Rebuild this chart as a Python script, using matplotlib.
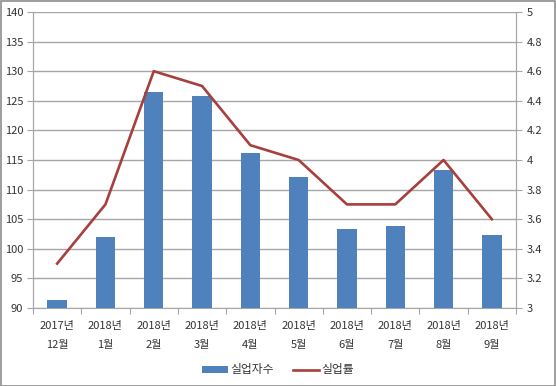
import matplotlib.pyplot as plt
import numpy as np

plt.rcParams['font.family'] = ['Noto Sans CJK KR', 'DejaVu Sans']

years = ['2017년', '2018년', '2018년', '2018년', '2018년', '2018년', '2018년', '2018년', '2018년', '2018년']
months = ['12월', '1월', '2월', '3월', '4월', '5월', '6월', '7월', '8월', '9월']
unemployed = [91.3, 102.0, 126.5, 125.8, 116.1, 112.2, 103.4, 103.9, 113.3, 102.4]
rate = [3.3, 3.7, 4.6, 4.5, 4.1, 4.0, 3.7, 3.7, 4.0, 3.6]

bar_color = '#4F81BD'
line_color = '#A5403D'
grid_color = '#a6a6a6'
text_color = '#333333'

fig = plt.figure(figsize=(5.56, 3.86), dpi=100)
fig.patches.append(plt.Rectangle((0.001, 0.001), 0.998, 0.997, transform=fig.transFigure,
                                 fill=False, edgecolor='#8c8c8c', linewidth=1.2))
ax = fig.add_axes([33 / 556, 1 - 308 / 386, 483 / 556, 296 / 386])
ax2 = ax.twinx()

x = np.arange(len(months))
ax.bar(x, unemployed, width=0.4, color=bar_color, zorder=3, label='실업자수')
ax2.plot(x, rate, color=line_color, linewidth=1.9, label='실업률')

ax.set_xlim(-0.5, len(months) - 0.5)
ax.set_ylim(90, 140)
ax.set_yticks(np.arange(90, 141, 5))
ax2.set_ylim(3, 5)
ax2.set_yticks(np.arange(3, 5.01, 0.2))
ax2.set_yticklabels(['3', '3.2', '3.4', '3.6', '3.8', '4', '4.2', '4.4', '4.6', '4.8', '5'])

ax.yaxis.grid(True, color=grid_color, linewidth=1.0, zorder=0)
ax.set_axisbelow(True)

ax.set_xticks(np.arange(-0.5, len(months), 1.0))
ax.set_xticklabels([])
ax.set_xticks(x, minor=True)
ax.set_xticklabels([f'{y}\n{m}' for y, m in zip(years, months)], minor=True,
                   linespacing=2.2)
ax.tick_params(axis='x', which='minor', length=0, pad=9, labelsize=8, labelcolor=text_color)
ax.tick_params(axis='x', which='major', length=4, color=grid_color)
ax.tick_params(axis='y', length=4, color=grid_color, labelsize=8, pad=3, labelcolor=text_color)
ax2.tick_params(axis='y', length=4, color=grid_color, labelsize=8, pad=4, labelcolor=text_color)

for a in (ax, ax2):
    a.spines['top'].set_visible(False)
    for s in ('left', 'right', 'bottom'):
        a.spines[s].set_color(grid_color)
ax2.spines['bottom'].set_visible(False)

h1, l1 = ax.get_legend_handles_labels()
h2, l2 = ax2.get_legend_handles_labels()
leg = fig.legend(h1 + h2, l1 + l2, loc='center', bbox_to_anchor=(0.5, 1 - 370 / 386), ncol=2,
                 frameon=False, fontsize=8.5, handlelength=2.2, handleheight=0.5,
                 columnspacing=1.6, handletextpad=0.2)
for t in leg.get_texts():
    t.set_color(text_color)

fig.savefig('out.png', dpi=100)
